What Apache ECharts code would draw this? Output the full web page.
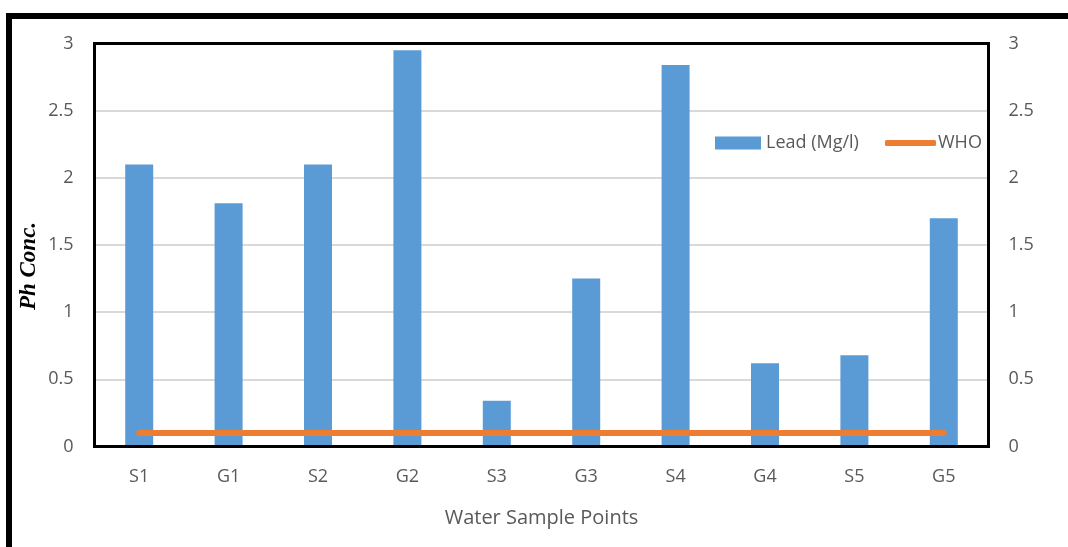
<!DOCTYPE html>
<html>
<head>
<meta charset="utf-8">
<script src="https://cdn.jsdelivr.net/npm/echarts@6/dist/echarts.min.js"></script>
<style>
html,body{margin:0;padding:0;background:#fff;}
#c{width:1068px;height:547px;}
</style>
</head>
<body>
<div id="c"></div>
<script>
var categories = ['S1','G1','S2','G2','S3','G3','S4','G4','S5','G5'];
var leadValues = [2.10, 1.81, 2.10, 2.95, 0.34, 1.25, 2.84, 0.62, 0.68, 1.70];
var whoValues = [0.1, 0.1, 0.1, 0.1, 0.1, 0.1, 0.1, 0.1, 0.1, 0.1];
var yTicks = {min: 0, max: 3, interval: 0.5};

var FONT = 'Open Sans';
var GL = 94.5, GT = 43.5, GR = 988.5, GB = 446.5;
var chart = echarts.init(document.getElementById('c'), null, {renderer: 'canvas'});
chart.setOption({
  animation: false,
  backgroundColor: '#fff',
  graphic: [{
    type: 'rect',
    shape: {x: 9, y: 16, width: 1200, height: 700},
    style: {fill: 'none', stroke: '#000', lineWidth: 6},
    z: 100
  }, {
    type: 'rect',
    shape: {x: GL, y: GT, width: GR - GL, height: GB - GT},
    style: {fill: 'none', stroke: '#000', lineWidth: 3},
    z: 100
  }, {
    type: 'text',
    x: 29, y: 266,
    rotation: Math.PI / 2,
    style: {
      text: 'Ph Conc.',
      fontFamily: 'Liberation Serif', fontWeight: 'bold', fontStyle: 'italic',
      fontSize: 23, fill: '#000', align: 'center', verticalAlign: 'middle'
    },
    z: 100
  }],
  grid: {
    left: GL, top: GT, right: 1068 - GR, bottom: 547 - GB
  },
  legend: [{
    data: [{name: 'Lead (Mg/l)', icon: 'rect'}],
    left: 710, top: 129,
    itemWidth: 46, itemHeight: 13,
    textStyle: {fontFamily: FONT, fontSize: 18, color: '#595959'}
  }, {
    data: [{name: 'WHO', icon: 'roundRect'}],
    left: 880, top: 129,
    itemWidth: 51, itemHeight: 6,
    itemStyle: {color: '#ED7D31'},
    textStyle: {fontFamily: FONT, fontSize: 18, color: '#595959', padding: [0,0,0,-3]}
  }],
  xAxis: {
    type: 'category',
    data: categories,
    axisLine: {show: false},
    axisTick: {show: false},
    axisLabel: {fontFamily: FONT, fontSize: 18, color: '#595959', margin: 21},
    name: 'Water Sample Points',
    nameLocation: 'middle',
    nameGap: 62,
    nameTextStyle: {fontFamily: FONT, fontSize: 20, color: '#595959'}
  },
  yAxis: [{
    type: 'value', min: yTicks.min, max: yTicks.max, interval: yTicks.interval,
    axisLine: {show: false}, axisTick: {show: false},
    splitLine: {lineStyle: {color: '#d9d9d9', width: 2}},
    axisLabel: {fontFamily: FONT, fontSize: 18, color: '#595959', margin: 21}
  }, {
    type: 'value', min: yTicks.min, max: yTicks.max, interval: yTicks.interval,
    position: 'right',
    axisLine: {show: false}, axisTick: {show: false},
    splitLine: {show: false},
    axisLabel: {fontFamily: FONT, fontSize: 18, color: '#595959', margin: 20}
  }],
  series: [{
    name: 'Lead (Mg/l)',
    type: 'bar',
    data: leadValues,
    barWidth: 28,
    itemStyle: {color: '#5B9BD5'}
  }, {
    name: 'WHO',
    type: 'line',
    data: whoValues,
    symbol: 'none',
    lineStyle: {color: '#ED7D31', width: 6, cap: 'round'},
    itemStyle: {color: '#ED7D31'},
    z: 5
  }]
});
</script>
</body>
</html>
